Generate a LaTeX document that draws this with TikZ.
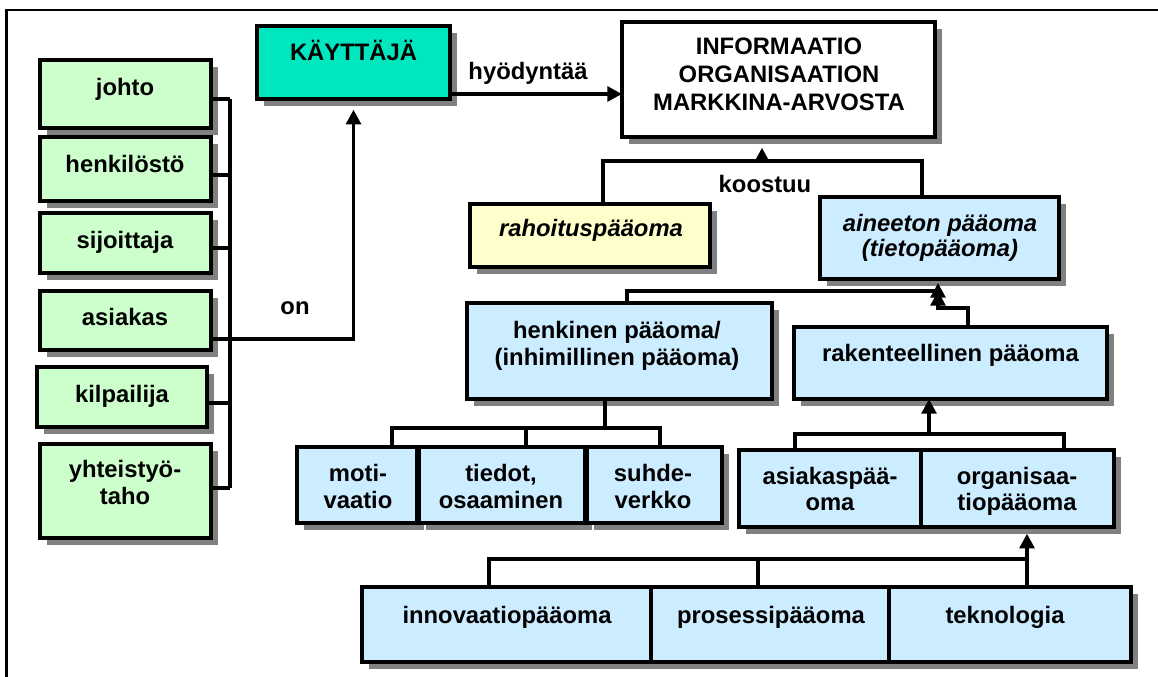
\documentclass[tikz,border=0pt]{standalone}
\usepackage{fontspec}
\setmainfont{Liberation Sans}
\usetikzlibrary{fit,shadows,arrows.meta,calc}
\definecolor{boxgreen}{HTML}{CCFFCC}
\definecolor{boxteal}{HTML}{00E6BE}
\definecolor{boxyellow}{HTML}{FFFFCC}
\definecolor{boxblue}{HTML}{CCECFF}
\definecolor{shadowgray}{HTML}{808080}
% centred lines whose baseline is the first line's baseline
\newcommand\stacked[1]{\begin{tabular}[t]{@{}c@{}}#1\end{tabular}}

\begin{document}
\begin{tikzpicture}[x=0.75pt,y=-0.75pt,
  box/.style={draw=black, line width=2.8pt, inner sep=0pt, outer sep=0pt,
    general shadow={fill=shadowgray, shadow xshift=5.5pt, shadow yshift=-5pt}},
  greenbox/.style={box, fill=boxgreen},
  tealbox/.style={box, fill=boxteal},
  yellowbox/.style={box, fill=boxyellow},
  bluebox/.style={box, fill=boxblue},
  whitebox/.style={box, fill=white},
  lbl/.style={font=\fontsize{17.85}{20.25}\selectfont\bfseries, inner sep=0pt, anchor=base},
  conn/.style={line width=2.8pt},
  arr/.style={conn, -{Triangle[length=11pt,width=11pt]}},
  frame/.style={line width=1.6pt}]

\useasboundingbox (0,0) rectangle (1158,677);

% outer frame (only top and left edges fall on the page)
\coordinate (frTR) at (1158,10);
\coordinate (frBL) at (6.5,677);
\draw[frame] (frTR) -| (frBL);

% user groups
\node[greenbox, fit={(40,60) (211,128)}] (johto) {};
\node[greenbox, fit={(40,137) (211,201)}] (henk) {};
\node[greenbox, fit={(40,213) (211,273)}] (sijo) {};
\node[greenbox, fit={(40,291) (211,350)}] (asiak) {};
\node[greenbox, fit={(37,367) (207,427)}] (kilp) {};
\node[greenbox, fit={(40,444) (211,538)}] (yht) {};

% top row
\node[tealbox, fit={(257,26) (450,99)}] (kay) {};
\node[whitebox, fit={(622,22) (935,137)}] (info) {};

% capital
\node[yellowbox, fit={(470,204) (710,267)}] (rah) {};
\node[bluebox, fit={(820,197) (1059,279)}] (ain) {};
\node[bluebox, fit={(467,303) (772,399)}] (henkp) {};
\node[bluebox, fit={(794,327) (1107,399)}] (rak) {};

\node[bluebox, fit={(297,447) (417,523)}] (moti) {};
\node[bluebox, fit={(419,447) (585,523)}] (tied) {};
\node[bluebox, fit={(587,447) (722,523)}] (suh) {};

\node[bluebox, fit={(739,450) (921,527)}] (asp) {};
\node[bluebox, fit={(921,450) (1114,527)}] (org) {};

\node[bluebox, fit={(362,587) (651,662)}] (inn) {};
\node[bluebox, fit={(651,587) (889,662)}] (pro) {};
\node[bluebox, fit={(889,587) (1131,662)}] (tek) {};

% texts
\node[lbl] (johto-t) at (125,96) {johto};
\node[lbl] (henk-t) at (125,173) {henkilöstö};
\node[lbl] (sijo-t) at (125,249) {sijoittaja};
\node[lbl] (asiak-t) at (125,326) {asiakas};
\node[lbl] (kilp-t) at (122,403) {kilpailija};
\node[lbl] (yht-t) at (125,478) {\stacked{yhteistyö-\\taho}};
\node[lbl] (kay-t) at (353.5,61) {KÄYTTÄJÄ};
\node[lbl] (hy-t) at (528,80) {hyödyntää};
\node[lbl, font=\fontsize{17.85}{21}\selectfont\bfseries] (info-t) at (779,55)
  {\stacked{INFORMAATIO\\ORGANISAATION\\MARKKINA-ARVOSTA}};
\node[lbl] (on-t) at (295,315) {on};
\node[lbl] (koos-t) at (765,193) {koostuu};
\node[lbl, font=\fontsize{17.85}{20.25}\selectfont\bfseries\itshape] (rah-t) at (591,237) {rahoituspääoma};
\node[lbl, font=\fontsize{17.85}{18}\selectfont\bfseries\itshape] (ain-t) at (940,232)
  {\stacked{aineeton pääoma\\(tietopääoma)}};
\node[lbl] (henkp-t) at (617,339) {\stacked{henkinen pääoma/\\(inhimillinen pääoma)}};
\node[lbl] (rak-t) at (950.5,362) {rakenteellinen pääoma};
\node[lbl] (moti-t) at (358,482) {\stacked{moti-\\vaatio}};
\node[lbl] (tied-t) at (501,482) {\stacked{tiedot,\\osaaminen}};
\node[lbl] (suh-t) at (653,482) {\stacked{suhde-\\verkko}};
\node[lbl] (asp-t) at (830,484) {\stacked{asiakaspää-\\oma}};
\node[lbl] (org-t) at (1017,484) {\stacked{organisaa-\\tiopääoma}};
\node[lbl] (inn-t) at (507,623) {innovaatiopääoma};
\node[lbl] (pro-t) at (771,623) {prosessipääoma};
\node[lbl] (tek-t) at (1005,623) {teknologia};

% bracket joining the user groups
\coordinate (busTop) at (230,99);
\coordinate (busBot) at (230,488);
\draw[conn] (busTop) -- (busBot);
\draw[conn] ($(johto.east)+(0,5)$) -- (busTop);
\draw[conn] ($(henk.east)+(0,6)$) coordinate (t2) -- (t2 -| busTop);
\draw[conn] ($(sijo.east)+(0,5)$) coordinate (t3) -- (t3 -| busTop);
\draw[conn] ($(kilp.east)+(0,6)$) coordinate (t5) -- (t5 -| busTop);
\draw[conn] ($(yht.east)+(0,-3)$) coordinate (t6) -- (t6 -| busTop);
% "on"
\draw[arr, shorten >=8pt] ($(asiak.east)+(0,18.5)$) -| (kay.south);
% "hyödyntää"
\draw[arr] ($(kay.east)+(0,31.5)$) coordinate (hy) -- (hy -| info.west);

% "koostuu"
\coordinate (kj) at (762,161);
\coordinate (xr1) at (603,0);
\coordinate (xa1) at (922,0);
\draw[conn] (rah.north -| xr1) |- (kj);
\draw[conn] (ain.north -| xa1) |- (kj);
\draw[arr, shorten >=8pt] (kj) -- (kj |- info.south);

% into aineeton pääoma
\coordinate (jA) at (938,291);
\coordinate (jB) at (938,308);
\coordinate (xh1) at (627,0);
\coordinate (xk1) at (968,0);
\draw[arr, shorten >=3pt] (henkp.north -| xh1) |- (jA) -- (jA |- ain.south);
\draw[arr] (rak.north -| xk1) |- (jB) -- (jB |- jA);

% henkinen pääoma parts
\coordinate (hb) at (605,428);
\coordinate (xm) at (392,0);
\coordinate (xt) at (526,0);
\coordinate (xs) at (660,0);
\draw[conn] (henkp.south -| hb) -- (hb);
\draw[conn] (moti.north -| xm) |- (hb) -| (suh.north -| xs);
\draw[conn] (tied.north -| xt) -- (xt |- hb);

% rakenteellinen pääoma parts
\coordinate (bb) at (929,434);
\coordinate (xa) at (795,0);
\coordinate (xo) at (1064,0);
\draw[conn] (asp.north -| xa) |- (bb) -| (org.north -| xo);
\draw[arr] (bb) -- (bb |- rak.south);

% organisaatiopääoma parts
\coordinate (cb) at (1027,559);
\coordinate (xi) at (489,0);
\coordinate (xp) at (758,0);
\draw[conn] (inn.north -| xi) |- (cb);
\draw[conn] (pro.north -| xp) -- (xp |- cb);
\draw[arr, shorten >=5pt] (tek.north -| cb) -- (cb |- org.south);

\end{tikzpicture}
\end{document}
